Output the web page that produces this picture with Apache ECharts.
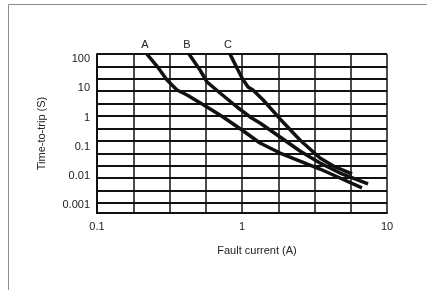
<!DOCTYPE html>
<html>
<head>
<meta charset="utf-8">
<script src="https://cdn.jsdelivr.net/npm/echarts@6/dist/echarts.min.js"></script>
<style>
  html, body { margin: 0; padding: 0; background: #fff; }
  #chart { width: 427px; height: 290px; }
</style>
</head>
<body>
<div id="chart"></div>
<script>
// curve values (current in A, time in s)
let currentA = [0.221, 0.259, 0.304, 0.356, 0.418, 0.574, 0.74, 1.0, 1.33, 1.83, 2.51, 3.45, 4.74, 6.72];
let timeA = [150, 58.7, 19.5, 8.84, 5.96, 2.31, 1.05, 0.376, 0.135, 0.061, 0.0325, 0.0173, 0.0085, 0.0039];
let currentB = [0.431, 0.513, 0.574, 0.705, 0.924, 1.135, 1.33, 1.83, 2.51, 3.45, 4.74, 7.4];
let timeB = [150, 42.8, 16.6, 6.97, 2.31, 1.05, 0.653, 0.216, 0.0716, 0.0278, 0.0126, 0.0053];
let currentC = [0.827, 0.938, 1.0, 1.1, 1.19, 1.4, 1.83, 2.51, 3.45, 4.38, 5.74];
let timeC = [150, 42.8, 22.8, 11.2, 8.84, 4.01, 0.9, 0.171, 0.0412, 0.0203, 0.0117];
let curveNames = ['A', 'B', 'C'];
let xTickLabels = ['0.1', '1', '10'];
let yTickLabels = ['0.001', '0.01', '0.1', '1', '10', '100'];

let textColor = '#222';
let font = 'Liberation Sans, Arial, sans-serif';

function toPoints(xs, ys) {
  return xs.map(function (x, i) { return [Math.log10(x), Math.log10(ys[i])]; });
}

function makeSeries(name, xs, ys) {
  let pts = toPoints(xs, ys);
  pts[0] = {
    value: pts[0],
    label: {
      show: true, position: 'top', distance: 4, offset: [-2, 0],
      formatter: name, color: textColor, fontSize: 11, fontFamily: font
    }
  };
  return {
    name: name,
    type: 'line',
    xAxisIndex: 0,
    yAxisIndex: 0,
    data: pts,
    symbol: 'circle',
    symbolSize: 0.1,
    showSymbol: true,
    clip: false,
    lineStyle: { color: '#111', width: 3.5 },
    itemStyle: { color: '#111' },
    z: 5
  };
}

let myChart = echarts.init(document.getElementById('chart'));
let option = {
  animation: false,
  backgroundColor: '#fff',
  textStyle: { fontFamily: font },
  graphic: [
    {
      type: 'rect',
      shape: { x: 8.5, y: 4.5, width: 440, height: 300 },
      style: { fill: 'none', stroke: '#8c8c8c', lineWidth: 1 },
      silent: true
    }
  ],
  grid: {
    left: 97,
    right: 40,
    top: 54,
    bottom: 77
  },
  xAxis: [
    {
      type: 'value',
      min: -1,
      max: 1,
      interval: 0.25,
      name: 'Fault current (A)',
      nameLocation: 'middle',
      nameGap: 32,
      nameTextStyle: { color: textColor, fontSize: 11, padding: [0, 0, 0, 30] },
      axisLine: { onZero: false, lineStyle: { color: '#111', width: 2 } },
      axisTick: { show: false },
      axisLabel: {
        color: textColor,
        fontSize: 11,
        margin: 8,
        formatter: function (v) {
          let k = Math.round(v);
          return Math.abs(v - k) < 1e-6 ? xTickLabels[k + 1] : '';
        }
      },
      splitLine: { show: true, lineStyle: { color: '#111', width: 1.5 } }
    }
  ],
  yAxis: [
    {
      type: 'value',
      min: -3.27,
      max: 2.18,
      name: 'Time-to-trip (S)',
      nameLocation: 'middle',
      nameGap: 50,
      nameTextStyle: { color: textColor, fontSize: 11 },
      axisLine: { onZero: false, lineStyle: { color: '#111', width: 2 } },
      axisTick: { show: false },
      axisLabel: {
        color: textColor,
        fontSize: 11,
        margin: 7,
        customValues: [-3, -2, -1, 0, 1, 2],
        formatter: function (v) {
          return yTickLabels[Math.round(v) + 3];
        }
      },
      splitLine: { show: false }
    },
    {
      // helper axis for the evenly spaced horizontal grid of the original
      type: 'value',
      inverse: true,
      min: 0,
      max: 12.81,
      interval: 1,
      position: 'left',
      axisLine: { show: false },
      axisTick: { show: false },
      axisLabel: { show: false },
      splitLine: { show: true, lineStyle: { color: '#111', width: 2 } }
    }
  ],
  series: [
    makeSeries(curveNames[0], currentA, timeA),
    makeSeries(curveNames[1], currentB, timeB),
    makeSeries(curveNames[2], currentC, timeC)
  ]
};
myChart.setOption(option);
</script>
</body>
</html>
